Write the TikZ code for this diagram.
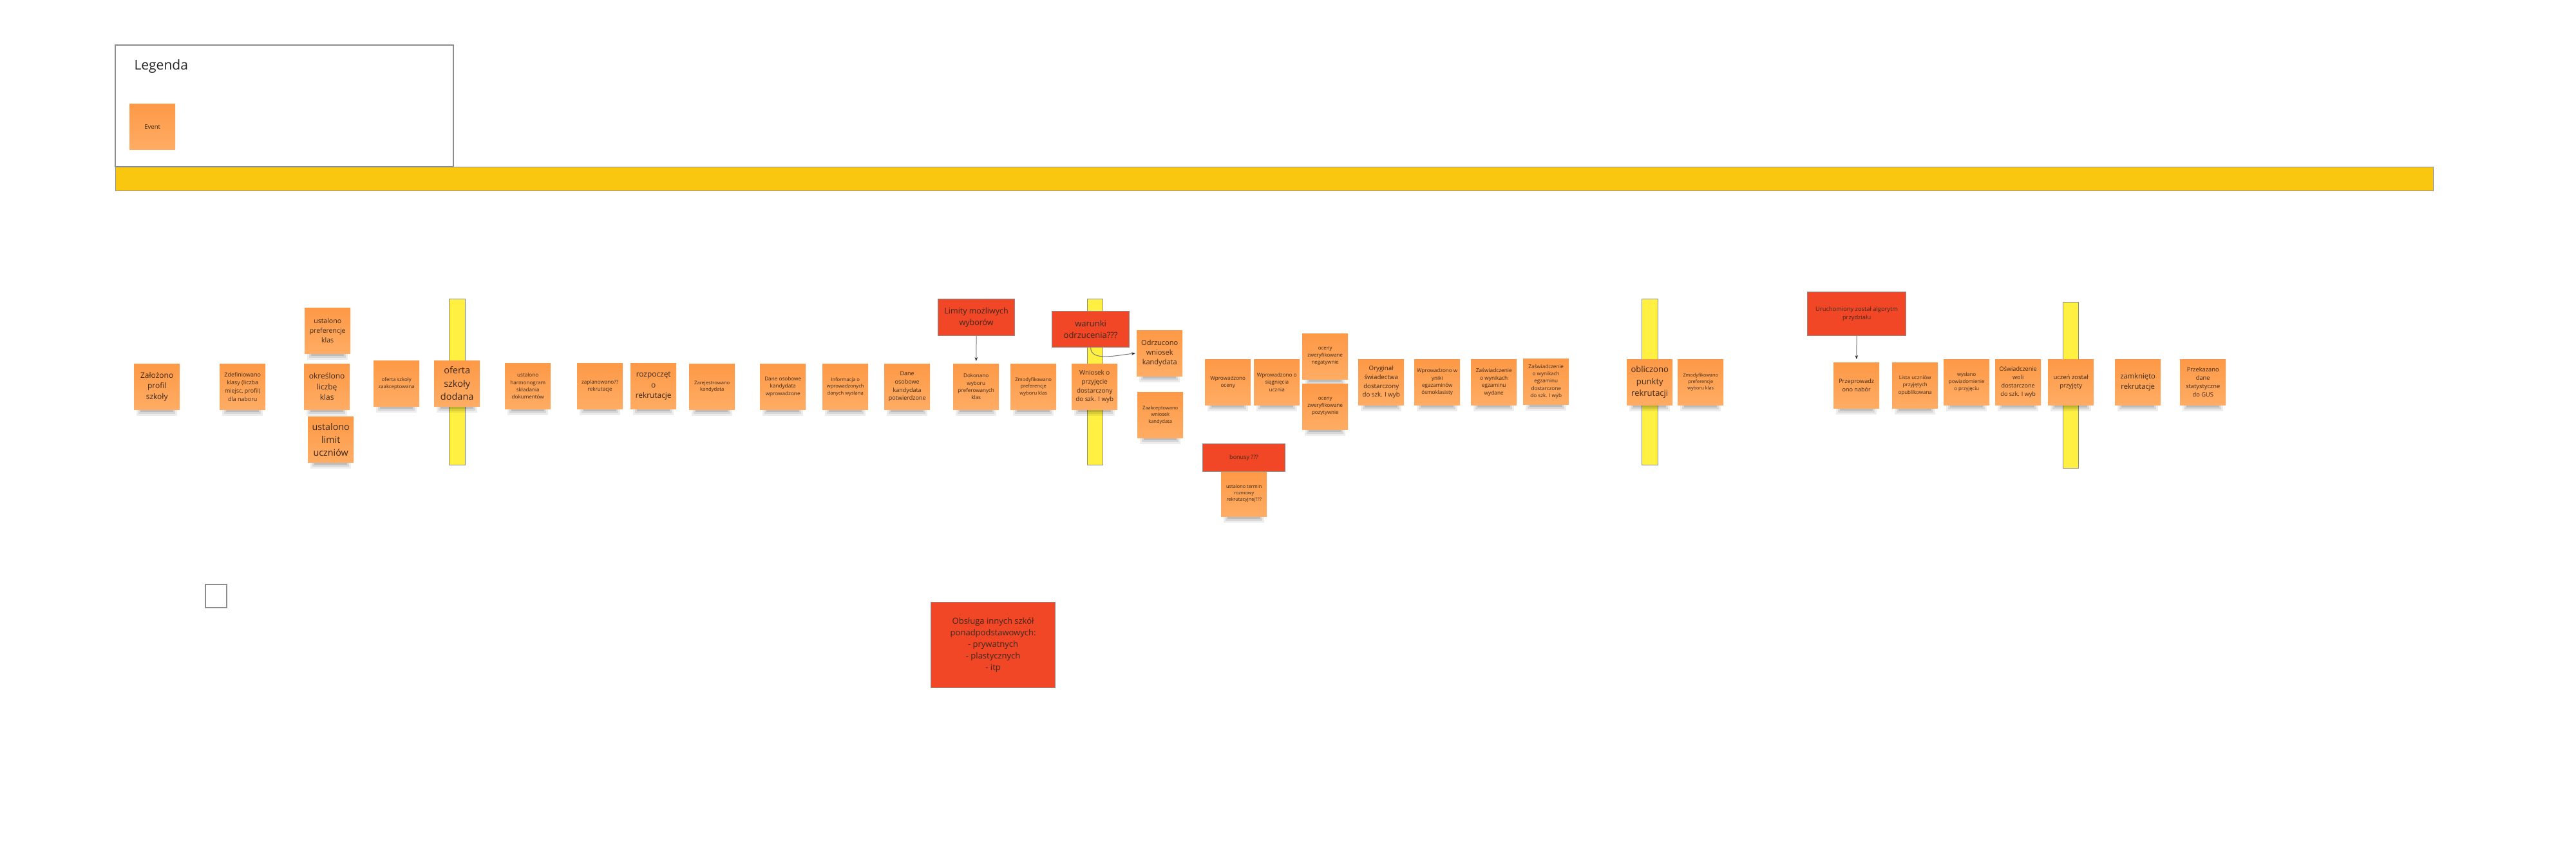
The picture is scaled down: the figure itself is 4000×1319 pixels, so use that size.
\documentclass[tikz,border=0pt]{standalone}
\usepackage{fontspec}
\setmainfont{Open Sans}
\usetikzlibrary{arrows.meta,backgrounds}
\definecolor{noteA}{RGB}{253,153,70}
\definecolor{noteB}{RGB}{255,172,100}
\definecolor{notetext}{RGB}{60,42,30}
\definecolor{redfill}{RGB}{241,71,38}
\definecolor{hbar}{RGB}{250,199,16}
\definecolor{vbarc}{RGB}{255,240,66}
\definecolor{edgec}{RGB}{140,140,140}
\definecolor{linec}{RGB}{120,120,120}
\tikzset{
  fs/.style 2 args={font=\fontsize{#1}{#2}\selectfont},
  note/.style={anchor=north west, top color=noteA, bottom color=noteB, draw=none,
    minimum width=71, minimum height=71, inner sep=1, align=center, text=notetext},
  redbox/.style={anchor=north west, fill=redfill, draw=edgec, line width=1.2,
    align=center, text=notetext, inner sep=2},
  vbar/.style={fill=vbarc, draw=edgec, line width=0.8},
  conn/.style={draw=linec, line width=1, -{Stealth[length=6pt,width=4.5pt,color=black!85]}},
}
\begin{document}
\begin{tikzpicture}[x=1pt,y=-1pt]
\useasboundingbox (0,0) rectangle (4000,1319);

% legend and horizontal band
\draw[edgec, line width=1.8, fill=white] (179,70) rectangle (704,259);
\node[anchor=base west, fs={21}{26}, text=black!85] (legtitle) at (205,109) {Legenda};
\node[note, fs={9.5}{12}] (event) at (201,161) {Event};
\fill[hbar, draw=edgec, line width=0.8] (179,259) rectangle (3778,296);

% small square
\draw[edgec, line width=1.5, fill=white] (319,908) rectangle (352,944);

% sticky notes
\node[note, fs={12}{16.7}] (zal) at (208,565) {Założono\\profil\\szkoły};
\node[note, fs={8.9}{12.7}] (zdef) at (341,565) {Zdefiniowano\\klasy (liczba\\miejsc, profil)\\dla naboru};
\node[note, fs={10.5}{14.7}] (pref) at (473,478) {ustalono\\preferencje\\klas};
\node[note, fs={12}{16.7}] (licz) at (472,565) {określono\\liczbę\\klas};
\node[note, fs={14.3}{20}] (limit) at (478,647) {ustalono\\limit\\uczniów};
\node[note, fs={7.8}{11}] (zaakc) at (580,560) {oferta szkoły\\zaakceptowana};
\node[note, fs={14.5}{20.5}] (dodana) at (674,560) {oferta\\szkoły\\dodana};
\node[note, fs={8.1}{11.3}] (harm) at (784,564) {ustalono\\harmonogram\\składania\\dokumentów};
\node[note, fs={8.1}{11.3}] (zapl) at (896,564) {zaplanowano??\\rekrutacje};
\node[note, fs={11.9}{16.7}] (rozp) at (979,564) {rozpoczęt\\o\\rekrutacje};
\node[note, fs={7.6}{10.7}] (zarej) at (1070,565) {Zarejestrowano\\kandydata};
\node[note, fs={8.2}{11.5}] (danew) at (1180,565) {Dane osobowe\\kandydata\\wprowadzone};
\node[note, fs={7.6}{10.7}] (info) at (1277,565) {Informacja o\\wprowadzonych\\danych wysłana};
\node[note, fs={9}{12.6}] (danep) at (1373,565) {Dane\\osobowe\\kandydata\\potwierdzone};
\node[note, fs={8.1}{11.3}] (dokon) at (1480,565) {Dokonano\\wyboru\\preferowanych\\klas};
\node[note, fs={7.6}{10.7}] (zmod1) at (1569,565) {Zmodyfikowano\\preferencje\\wyboru klas};
\node[note, fs={9.8}{13.7}] (wniosek) at (1664,565) {Wniosek o\\przyjęcie\\dostarczony\\do szk. I wyb};
\node[note, fs={11}{15}] (odrz) at (1765,513) {Odrzucono\\wniosek\\kandydata};
\node[note, fs={7.5}{10.5}] (akcept) at (1766,609) {Zaakceptowano\\wniosek\\kandydata};
\node[note, fs={8.1}{11.3}] (oceny) at (1871,558) {Wprowadzono\\oceny};
\node[note, fs={8.1}{11.3}] (osiag) at (1947,558) {Wprowadzono o\\siągnięcia\\ucznia};
\node[note, fs={7.9}{11}] (neg) at (2022,518) {oceny\\zweryfikowane\\negatywnie};
\node[note, fs={7.9}{11}] (poz) at (2022,596) {oceny\\zweryfikowane\\pozytywnie};
\node[note, fs={9.7}{13.6}] (oryg) at (2109,558) {Oryginał\\świadectwa\\dostarczony\\do szk. I wyb};
\node[note, fs={8.1}{11.3}] (egz) at (2196,558) {Wprowadzono w\\yniki\\egazaminów\\ósmoklasisty};
\node[note, fs={8.3}{11.6}] (zasw1) at (2284,558) {Zaświadczenie\\o wynikach\\egzaminu\\wydane};
\node[note, fs={8.1}{11.4}] (zasw2) at (2365,557) {Zaświadczenie\\o wynikach\\egzaminu\\dostarczone\\do szk. I wyb};
\node[note, fs={7.4}{10.3}, yshift=-4pt] (termin) at (1896,727) {ustalono termin\\rozmowy\\rekrutacyjnej???};
\node[note, fs={13}{18.3}] (oblicz) at (2526,558) {obliczono\\punkty\\rekrutacji};
\node[note, fs={7.3}{10.2}] (zmod2) at (2605,558) {Zmodyfikowano\\preferencje\\wyboru klas};
\node[note, fs={9.1}{12.7}] (nabor) at (2847,563) {Przeprowadz\\ono nabór};
\node[note, fs={8}{11.2}] (lista) at (2938,563) {Lista uczniów\\przyjętych\\opublikowana};
\node[note, fs={7.7}{10.8}] (powiad) at (3018,558) {wysłano\\powiadomienie\\o przyjęciu};
\node[note, fs={9.1}{12.8}] (oswiad) at (3098,558) {Oświadczenie\\woli\\dostarczone\\do szk. I wyb};
\node[note, fs={9.5}{13.3}] (przyj) at (3180,558) {uczeń został\\przyjęty};
\node[note, fs={11.2}{15.7}] (zamk) at (3284,558) {zamknięto\\rekrutacje};
\node[note, fs={9.3}{13}] (gus) at (3385,558) {Przekazano\\dane\\statystyczne\\do GUS};

% red boxes
\node[redbox, minimum width=119, minimum height=57, fs={12.5}{18}] (limity) at (1456,464) {Limity możliwych\\wyborów};
\node[redbox, minimum width=120, minimum height=56, fs={13}{17.7}] (warunki) at (1633,483) {warunki\\odrzucenia???};
\node[redbox, minimum width=128, minimum height=43, fs={9}{12}] (bonusy) at (1867,689) {bonusy ???};
\node[redbox, minimum width=153, minimum height=68, fs={9.3}{13}] (algo) at (2806,453) {Uruchomiony został algorytm\\przydziału};
\node[redbox, minimum width=193, minimum height=133, fs={13}{18.2}] (obsl) at (1445,935) {Obsługa innych szkół\\ponadpodstawowych:\\- prywatnych\\- plastycznych\\- itp};

% connectors
\draw[conn, shorten >=4pt] (limity.south) -- (dokon.north);
\draw[conn, shorten >=5pt] (algo.south) -- (nabor.north);
\draw[conn, shorten >=2pt] (warunki.south) .. controls +(0,22) and +(-30,3) .. (odrz.west);

% background: white, vertical bars, shadows
\begin{scope}[on background layer]
\fill[white] (0,0) rectangle (4000,1319);
\filldraw[vbar] (697,464) rectangle (722,722);
\filldraw[vbar] (1688,464) rectangle (1712,722);
\filldraw[vbar] (2549,464) rectangle (2574,722);
\filldraw[vbar] (3203,469) rectangle (3227,727);
\foreach \n in {event,zal,zdef,pref,licz,limit,zaakc,dodana,harm,zapl,rozp,zarej,danew,info,danep,dokon,zmod1,wniosek,odrz,akcept,oceny,osiag,neg,poz,oryg,egz,zasw1,zasw2,termin,oblicz,zmod2,nabor,lista,powiad,oswiad,przyj,zamk,gus}{
  \fill[black,opacity=0.07] ([xshift=4pt,yshift=6pt]\n.south west) rectangle ([xshift=-4pt,yshift=-10pt]\n.south east);
  \fill[black,opacity=0.09] ([xshift=7pt,yshift=6pt]\n.south west) rectangle ([xshift=-7pt,yshift=-7pt]\n.south east);
  \fill[black,opacity=0.12] ([xshift=10pt,yshift=6pt]\n.south west) rectangle ([xshift=-10pt,yshift=-4pt]\n.south east);
}
\end{scope}
\end{tikzpicture}
\end{document}
